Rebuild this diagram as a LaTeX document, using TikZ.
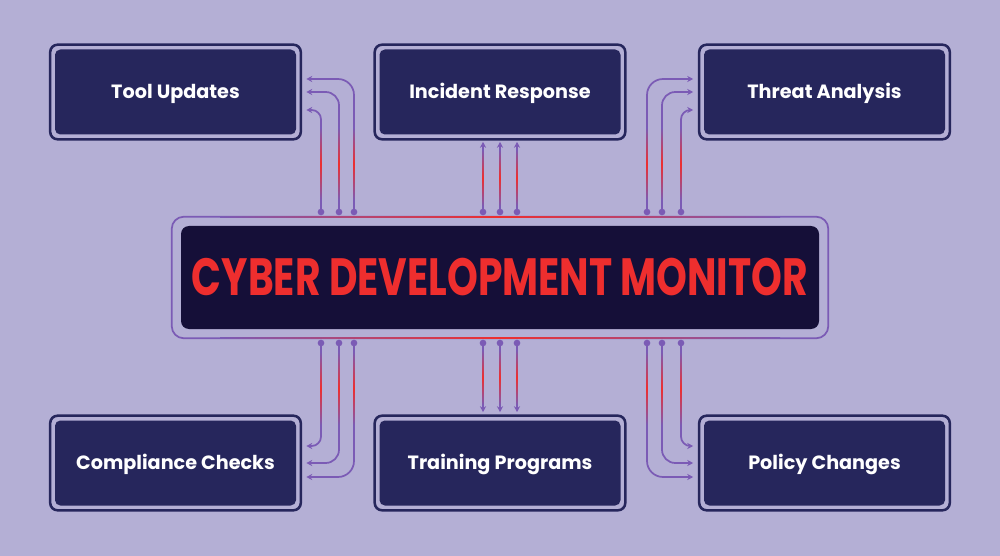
\documentclass[tikz,border=0pt]{standalone}
\usepackage{fontspec}
\usepackage{graphicx}
\setmainfont{Poppins}
\usetikzlibrary{arrows.meta,calc}
\definecolor{bg}{HTML}{B4AFD5}
\definecolor{navy}{HTML}{26265C}
\definecolor{deep}{HTML}{150F38}
\definecolor{vio}{HTML}{7B5BB5}
\definecolor{hot}{HTML}{EE2E2E}
\tikzset{
  lbox/.style={fill=navy, rounded corners=4pt, minimum width=180.75pt, minimum height=63.75pt,
    text=white, font=\bfseries\fontsize{14.4}{17}\selectfont, inner sep=0pt,
    text height=10pt, text depth=0pt},
  boxline/.style={draw=navy, line width=1.9pt, rounded corners=5.5pt},
  conn/.style={draw=vio, line width=1.3pt, -{Stealth[length=4.5pt,width=4.5pt]}},
  pin/.style={circle, fill=vio, inner sep=0pt, minimum size=5pt},
  glow/.style={top color=vio, bottom color=vio, middle color=hot},
  hglow/.style={left color=vio, right color=vio, middle color=hot},
}
\newcommand\navyframeAround[1]{\draw[boxline] ([shift={(-3.4pt,3.4pt)}]#1.north west) rectangle ([shift={(3.4pt,-3.4pt)}]#1.south east);}
\begin{document}
\begin{tikzpicture}[x=0.75pt,y=-0.75pt]
\fill[bg] (0,0) rectangle (1000,556);
\useasboundingbox (0,0) rectangle (1000,556);

% boxes
\node[lbox] (tu) at (175.5,92) {Tool Updates};
\node[lbox] (ir) at (500,92) {Incident Response};
\node[lbox] (ta) at (824.5,92) {Threat Analysis};
\node[lbox] (cc) at (175.5,463) {Compliance Checks};
\node[lbox] (tp) at (500,463) {Training Programs};
\node[lbox] (pc) at (824.5,463) {Policy Changes};
\navyframeAround{tu}\navyframeAround{ir}\navyframeAround{ta}
\navyframeAround{cc}\navyframeAround{tp}\navyframeAround{pc}

% central box
\node[fill=deep, rounded corners=6pt, minimum width=478.5pt, minimum height=77.25pt, inner sep=0pt, text=hot]
  (cdm) at (500,277.5) {\resizebox{462pt}{28pt}{\bfseries CYBER DEVELOPMENT MONITOR}};
\draw[vio, line width=1.3pt, rounded corners=9pt]
  ([shift={(-6.75pt,6.75pt)}]cdm.north west) rectangle ([shift={(6.75pt,-6.75pt)}]cdm.south east);
\shade[hglow] (220,216.2) rectangle (780,217.9);
\shade[hglow] (220,337.2) rectangle (780,338.9);

% connector pins
\foreach \n/\x in {1/321,2/339,3/354} {
  \coordinate (tl\n) at (\x,212);
  \coordinate (bl\n) at (\x,343);
}
\foreach \n/\x in {1/483,2/500,3/517} {
  \coordinate (tm\n) at (\x,212);
  \coordinate (bm\n) at (\x,343);
}
\foreach \n/\x in {1/647,2/662,3/681} {
  \coordinate (tr\n) at (\x,212);
  \coordinate (br\n) at (\x,343);
}

% top-left
\draw[conn, rounded corners=7pt]  (tl1) |- ($(tu.east)+(10,18)$);
\draw[conn, rounded corners=10pt] (tl2) |- ($(tu.east)+(10,0)$);
\draw[conn, rounded corners=12pt] (tl3) |- ($(tu.east)+(10,-13)$);
% top-middle
\draw[conn] (tm1) -- ($(ir.south)+(-17,7)$);
\draw[conn] (tm2) -- ($(ir.south)+(0,7)$);
\draw[conn] (tm3) -- ($(ir.south)+(17,7)$);
% top-right
\draw[conn, rounded corners=12pt] (tr1) |- ($(ta.west)+(-10.5,-13)$);
\draw[conn, rounded corners=10pt] (tr2) |- ($(ta.west)+(-10.5,0)$);
\draw[conn, rounded corners=7pt]  (tr3) |- ($(ta.west)+(-10.5,18)$);
% bottom-left
\draw[conn, rounded corners=7pt]  (bl1) |- ($(cc.east)+(10,-17)$);
\draw[conn, rounded corners=10pt] (bl2) |- ($(cc.east)+(10,0)$);
\draw[conn, rounded corners=12pt] (bl3) |- ($(cc.east)+(10,14)$);
% bottom-middle
\draw[conn] (bm1) -- ($(tp.north)+(-17,-8)$);
\draw[conn] (bm2) -- ($(tp.north)+(0,-8)$);
\draw[conn] (bm3) -- ($(tp.north)+(17,-8)$);
% bottom-right
\draw[conn, rounded corners=12pt] (br1) |- ($(pc.west)+(-10.5,14)$);
\draw[conn, rounded corners=10pt] (br2) |- ($(pc.west)+(-10.5,0)$);
\draw[conn, rounded corners=7pt]  (br3) |- ($(pc.west)+(-10.5,-17)$);

% red glow on vertical runs
\foreach \x in {321,339,354,647,662,681} {
  \shade[glow] (\x-0.87,128) rectangle (\x+0.87,200);
  \shade[glow] (\x-0.87,352) rectangle (\x+0.87,425);
}
\foreach \x in {483,500,517} {
  \shade[glow] (\x-0.87,150) rectangle (\x+0.87,206);
  \shade[glow] (\x-0.87,350) rectangle (\x+0.87,405);
}

% pins
\foreach \p in {tl1,tl2,tl3,tm1,tm2,tm3,tr1,tr2,tr3,bl1,bl2,bl3,bm1,bm2,bm3,br1,br2,br3}
  \node[pin] at (\p) {};
\end{tikzpicture}
\end{document}
